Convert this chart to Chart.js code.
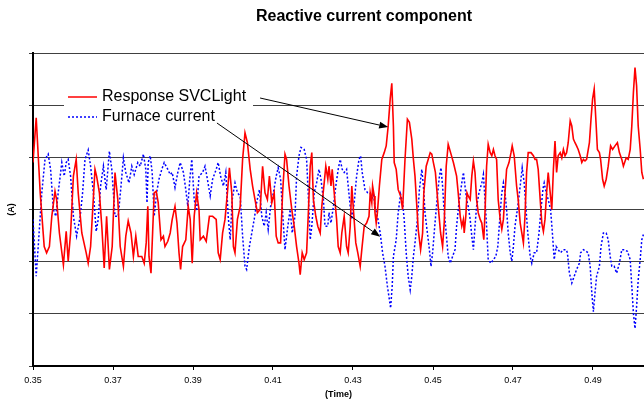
<!DOCTYPE html>
<html>
<head>
<meta charset="utf-8">
<script src="https://cdn.jsdelivr.net/npm/chart.js@4.4.0/dist/chart.umd.min.js"></script>
<style>
    html, body { margin: 0; padding: 0; background: #fff; }
    canvas { display: block; }
</style>
</head>
<body>
<canvas id="reactiveChart" width="644" height="403"></canvas>
<script>
const tickTimes = [0.35, 0.37, 0.39, 0.41, 0.43, 0.45, 0.47, 0.49];

const svcTime = [
    0.3500, 0.3508, 0.3518, 0.3528, 0.3534, 0.3541, 0.3547, 0.3555, 0.3559, 0.3566, 0.3576, 0.3583,
    0.3588, 0.3594, 0.3601, 0.3608, 0.3613, 0.3622, 0.3633, 0.3638, 0.3644, 0.3655, 0.3659, 0.3666,
    0.3672, 0.3678, 0.3684, 0.3691, 0.3698, 0.3705, 0.3712, 0.3718, 0.3726, 0.3732, 0.3738, 0.3745,
    0.3751, 0.3757, 0.3763, 0.3772, 0.3778, 0.3783, 0.3787, 0.3790, 0.3795, 0.3799, 0.3803, 0.3808,
    0.3813, 0.3820, 0.3826, 0.3830, 0.3837, 0.3843, 0.3848, 0.3855, 0.3860, 0.3865, 0.3869, 0.3874,
    0.3882, 0.3888, 0.3893, 0.3898, 0.3903, 0.3909, 0.3915, 0.3918, 0.3926, 0.3933, 0.3941, 0.3949,
    0.3958, 0.3963, 0.3968, 0.3974, 0.3980, 0.3986, 0.3991, 0.3997, 0.4001, 0.4005, 0.4011, 0.4018,
    0.4024, 0.4030, 0.4036, 0.4043, 0.4049, 0.4055, 0.4061, 0.4068, 0.4074, 0.4080, 0.4086, 0.4091,
    0.4097, 0.4103, 0.4108, 0.4113, 0.4119, 0.4124, 0.4130, 0.4134, 0.4140, 0.4147, 0.4153, 0.4159,
    0.4165, 0.4168, 0.4173, 0.4178, 0.4184, 0.4188, 0.4193, 0.4197, 0.4201, 0.4207, 0.4212, 0.4218,
    0.4222, 0.4228, 0.4232, 0.4237, 0.4240, 0.4245, 0.4248, 0.4253, 0.4259, 0.4263, 0.4268, 0.4272,
    0.4278, 0.4284, 0.4288, 0.4293, 0.4297, 0.4301, 0.4307, 0.4312, 0.4318, 0.4322, 0.4328, 0.4334,
    0.4340, 0.4343, 0.4347, 0.4349, 0.4353, 0.4355, 0.4358, 0.4361, 0.4366, 0.4372, 0.4378, 0.4383,
    0.4388, 0.4393, 0.4397, 0.4401, 0.4403, 0.4408, 0.4413, 0.4419, 0.4424, 0.4430, 0.4436, 0.4441,
    0.4447, 0.4451, 0.4455, 0.4459, 0.4463, 0.4469, 0.4474, 0.4477, 0.4483, 0.4488, 0.4493, 0.4497,
    0.4501, 0.4506, 0.4513, 0.4519, 0.4524, 0.4528, 0.4533, 0.4538, 0.4544, 0.4551, 0.4559, 0.4563,
    0.4568, 0.4572, 0.4576, 0.4578, 0.4582, 0.4585, 0.4588, 0.4593, 0.4597, 0.4601, 0.4605, 0.4609,
    0.4613, 0.4618, 0.4622, 0.4627, 0.4630, 0.4634, 0.4638, 0.4643, 0.4647, 0.4651, 0.4655, 0.4659,
    0.4663, 0.4668, 0.4672, 0.4676, 0.4680, 0.4684, 0.4690, 0.4695, 0.4698, 0.4703, 0.4709, 0.4713,
    0.4718, 0.4722, 0.4726, 0.4730, 0.4734, 0.4738, 0.4745, 0.4751, 0.4755, 0.4759, 0.4763, 0.4768,
    0.4772, 0.4776, 0.4780, 0.4784, 0.4788, 0.4793, 0.4797, 0.4801, 0.4805, 0.4809, 0.4813, 0.4818,
    0.4822, 0.4826, 0.4830, 0.4834, 0.4838, 0.4843, 0.4847, 0.4851, 0.4855, 0.4859, 0.4863, 0.4868,
    0.4872, 0.4876, 0.4880, 0.4884, 0.4891, 0.4895, 0.4899, 0.4903, 0.4908, 0.4911, 0.4916, 0.4919,
    0.4924, 0.4928, 0.4933, 0.4938, 0.4944, 0.4949, 0.4955, 0.4961, 0.4966, 0.4972, 0.4976, 0.4983,
    0.4988, 0.4993, 0.4997, 0.5001, 0.5005, 0.5009, 0.5013, 0.5018, 0.5022, 0.5026
];
const svcCurrent = [
    0.90, 1.76, 0.32, -0.71, -0.83, -0.71, -0.13, 0.35, 0.19, -0.45, -1.06, -0.42,
    -0.99, -0.45, 0.64, 0.96, 0.32, -0.45, -0.83, -1.03, -0.71, 0.77, 0.64, 0.32,
    -0.32, -1.12, -0.13, -1.15, -0.71, 0.71, 0.19, -0.71, -1.09, -0.51, -0.22, -0.45,
    -0.90, -0.51, -0.90, -0.90, -1.03, -0.64, 0.06, -0.90, -1.22, -0.45, 0.32, 0.35,
    0.13, -0.58, -0.51, -0.71, -0.61, -0.45, -0.19, 0.06, -0.26, -0.83, -1.15, -0.71,
    -0.58, 0.06, -0.19, -1.03, -0.13, 0.32, 0.00, -0.58, -0.51, -0.61, -0.13, -0.13,
    -0.19, -0.83, -0.96, -0.45, -0.19, 0.32, 0.80, 0.32, -0.71, -0.83, -0.19, 0.06,
    0.96, 1.47, 1.28, 0.77, 0.45, 0.19, -0.06, 0.00, 0.83, 0.32, 0.19, 0.64,
    0.13, 0.32, -0.51, -0.64, -0.64, 0.32, 1.06, 0.96, 0.45, 0.00, -0.32, -0.71,
    -1.03, -1.25, -0.83, -0.96, -0.83, -0.13, 0.83, 1.09, 0.19, -0.13, -0.32, -0.45,
    0.06, 0.51, 0.83, 0.58, 0.83, 0.45, 0.77, 0.32, -0.19, -0.71, -0.83, -0.45,
    -0.13, -0.71, -0.83, -0.32, 0.45, 0.00, -0.64, -0.83, -1.09, -0.77, -0.32, -0.26,
    -0.13, 0.32, 0.13, 0.45, 0.26, -0.06, -0.26, -0.06, 0.45, 0.96, 1.09, 1.22,
    1.60, 2.12, 2.42, 1.60, 0.90, 0.77, 0.38, 0.26, 0.00, 0.96, 1.73, 1.67,
    1.35, 0.96, 0.64, 0.13, -0.38, -0.77, -0.45, 0.32, 0.83, 0.96, 1.09, 1.06,
    0.90, 0.71, 0.06, -0.45, -0.71, -0.26, 0.83, 1.25, 1.09, 0.90, 0.64, 0.32,
    -0.13, -0.32, -0.19, -0.45, -0.13, 0.32, 0.26, 0.19, 0.64, 0.93, 0.71, 0.19,
    -0.06, -0.19, -0.26, -0.58, -0.06, 0.83, 1.25, 1.09, 1.03, 1.15, 1.03, 0.96,
    0.19, -0.19, -0.38, -0.19, 0.32, 0.77, 0.90, 1.09, 1.22, 1.03, 0.45, 0.19,
    -0.26, -0.45, -0.64, -0.13, 0.71, 1.09, 1.09, 1.03, 0.96, 0.96, 0.77, 0.19,
    -0.26, -0.42, -0.19, 0.32, 0.71, 0.32, 0.00, 0.77, 1.31, 0.71, 1.03, 1.09,
    0.99, 1.15, 1.03, 1.09, 1.28, 1.70, 1.60, 1.35, 1.28, 1.22, 1.15, 1.03,
    0.90, 0.96, 0.93, 0.96, 1.28, 1.73, 2.12, 2.31, 1.60, 1.15, 1.09, 0.96,
    0.58, 0.45, 0.58, 0.83, 1.22, 1.15, 1.22, 1.28, 1.09, 0.96, 0.83, 0.99,
    0.96, 1.15, 1.60, 2.24, 2.72, 2.37, 1.60, 1.15, 0.71, 0.58
];

const furnaceTime = [
    0.3500, 0.3508, 0.3513, 0.3522, 0.3530, 0.3538, 0.3544, 0.3551, 0.3557, 0.3563, 0.3572, 0.3578,
    0.3583, 0.3588, 0.3594, 0.3601, 0.3609, 0.3618, 0.3624, 0.3630, 0.3638, 0.3644, 0.3651, 0.3658,
    0.3663, 0.3669, 0.3676, 0.3683, 0.3691, 0.3697, 0.3705, 0.3713, 0.3720, 0.3726, 0.3732, 0.3740,
    0.3747, 0.3753, 0.3762, 0.3768, 0.3776, 0.3782, 0.3785, 0.3788, 0.3793, 0.3798, 0.3803, 0.3809,
    0.3815, 0.3822, 0.3828, 0.3837, 0.3843, 0.3848, 0.3855, 0.3862, 0.3868, 0.3876, 0.3882, 0.3887,
    0.3892, 0.3897, 0.3903, 0.3909, 0.3915, 0.3924, 0.3930, 0.3936, 0.3943, 0.3949, 0.3958, 0.3963,
    0.3969, 0.3976, 0.3982, 0.3988, 0.3993, 0.3998, 0.4005, 0.4011, 0.4018, 0.4024, 0.4030, 0.4034,
    0.4041, 0.4047, 0.4053, 0.4059, 0.4066, 0.4072, 0.4078, 0.4083, 0.4088, 0.4094, 0.4101, 0.4108,
    0.4113, 0.4119, 0.4124, 0.4130, 0.4137, 0.4143, 0.4148, 0.4155, 0.4159, 0.4165, 0.4170, 0.4178,
    0.4184, 0.4188, 0.4193, 0.4197, 0.4203, 0.4209, 0.4215, 0.4220, 0.4226, 0.4230, 0.4237, 0.4240,
    0.4245, 0.4251, 0.4257, 0.4263, 0.4268, 0.4273, 0.4278, 0.4284, 0.4288, 0.4293, 0.4297, 0.4303,
    0.4309, 0.4315, 0.4319, 0.4323, 0.4330, 0.4337, 0.4343, 0.4347, 0.4351, 0.4355, 0.4361, 0.4368,
    0.4374, 0.4380, 0.4386, 0.4391, 0.4394, 0.4398, 0.4401, 0.4408, 0.4413, 0.4419, 0.4424, 0.4428,
    0.4433, 0.4438, 0.4443, 0.4447, 0.4451, 0.4455, 0.4461, 0.4466, 0.4472, 0.4476, 0.4480, 0.4486,
    0.4491, 0.4495, 0.4499, 0.4505, 0.4511, 0.4516, 0.4520, 0.4524, 0.4527, 0.4533, 0.4538, 0.4543,
    0.4549, 0.4555, 0.4559, 0.4565, 0.4572, 0.4576, 0.4580, 0.4584, 0.4588, 0.4593, 0.4597, 0.4601,
    0.4605, 0.4609, 0.4615, 0.4622, 0.4626, 0.4630, 0.4634, 0.4638, 0.4645, 0.4651, 0.4657, 0.4662,
    0.4668, 0.4672, 0.4676, 0.4680, 0.4684, 0.4688, 0.4693, 0.4697, 0.4701, 0.4705, 0.4712, 0.4718,
    0.4723, 0.4728, 0.4732, 0.4737, 0.4743, 0.4747, 0.4753, 0.4759, 0.4765, 0.4770, 0.4775, 0.4778,
    0.4783, 0.4788, 0.4794, 0.4799, 0.4803, 0.4808, 0.4813, 0.4819, 0.4826, 0.4833, 0.4836, 0.4841,
    0.4847, 0.4853, 0.4859, 0.4866, 0.4869, 0.4876, 0.4883, 0.4888, 0.4893, 0.4897, 0.4901, 0.4905,
    0.4909, 0.4916, 0.4920, 0.4926, 0.4933, 0.4938, 0.4943, 0.4947, 0.4953, 0.4959, 0.4966, 0.4972,
    0.4978, 0.4986, 0.4993, 0.4997, 0.5001, 0.5005, 0.5009, 0.5013, 0.5018, 0.5022, 0.5026
];
const furnaceCurrent = [
    -0.19, -1.28, -0.71, 0.32, 0.96, 1.06, 0.77, 0.00, -0.13, 0.32, 0.90, 0.64,
    0.90, 0.96, 0.64, -0.13, -0.51, -0.13, 0.32, 0.96, 1.14, 0.83, 0.32, -0.42,
    -0.19, 0.45, 0.83, 0.38, 1.12, 0.77, -0.13, -0.13, 0.45, 0.99, 0.71, 0.51,
    0.83, 0.67, 0.90, 0.83, 1.06, 0.77, 0.13, 0.90, 1.03, 0.71, -0.13, 0.32,
    0.58, 0.77, 0.90, 0.77, 0.67, 0.71, 0.42, 0.71, 0.90, 0.71, 0.38, 0.06,
    0.58, 0.96, 0.19, -0.03, 0.64, 0.71, 0.83, 0.58, 0.26, 0.58, 0.77, 0.90,
    0.64, 0.45, 0.71, -0.13, -0.58, 0.19, 0.51, 0.32, 0.26, -0.51, -1.09, -1.15,
    -0.71, -0.45, -0.19, 0.13, 0.38, -0.13, -0.32, -0.06, -0.38, 0.06, 0.32, 0.64,
    0.80, 0.58, -0.06, -0.77, -0.32, 0.00, -0.45, -0.13, 0.64, 1.03, 1.19, 1.15,
    0.96, 0.32, -0.58, -0.32, 0.32, 0.51, 0.77, 0.58, 0.19, -0.32, -0.32, -0.06,
    -0.26, 0.06, 0.45, 0.77, 0.96, 0.77, 0.71, 0.77, 0.45, 0.06, -0.19, 0.13,
    0.64, 0.96, 1.03, 0.71, 0.38, 0.32, 0.32, 0.19, 0.32, 0.06, -0.13, -0.45,
    -0.83, -1.09, -1.47, -1.73, -1.89, -1.47, -0.90, -0.58, -0.06, 0.29, 0.13, -0.19,
    -0.83, -1.28, -1.54, -1.28, -0.90, -0.64, -0.19, 0.38, 0.77, 0.45, -0.06, -0.45,
    -0.77, -1.09, -0.83, -0.26, 0.26, 0.64, 0.80, 0.45, 0.06, -0.45, -0.90, -1.03,
    -0.90, -0.77, -0.32, 0.13, 0.51, 0.71, 0.45, 0.19, 0.06, -0.19, -0.51, -0.77,
    -0.32, 0.06, 0.32, 0.51, 0.67, 0.19, -0.32, -0.96, -1.03, -0.96, -0.90, -0.71,
    -0.06, 0.32, 0.51, 0.32, 0.00, -0.45, -0.83, -0.99, -0.71, -0.32, 0.06, 0.45,
    0.80, 0.51, 0.06, -0.45, -0.90, -1.03, -0.83, -0.83, -0.45, 0.00, 0.40, 0.51,
    0.32, 0.19, 0.00, -0.51, -0.96, -0.71, -0.77, -0.83, -0.77, -0.77, -0.83, -1.22,
    -1.41, -1.28, -1.15, -1.03, -0.83, -0.77, -0.80, -0.83, -1.09, -1.60, -1.96, -1.60,
    -1.28, -1.09, -0.71, -0.45, -0.45, -0.58, -0.90, -1.09, -1.09, -1.22, -1.03, -0.77,
    -0.77, -0.80, -0.96, -1.47, -1.99, -2.28, -1.86, -1.35, -0.96, -0.58, -0.48
];

// where the legend arrows point, in data units
const svcArrowTip = { x: 0.4388, y: 1.58 };
const furnaceArrowTip = { x: 0.4368, y: -0.52 };

const fontFamily = '"Liberation Sans", Arial, sans-serif';

const toPoints = (times, values) => times.map((t, i) => ({ x: t, y: values[i] }));

const drawArrow = (ctx, x0, y0, x1, y1) => {
    const angle = Math.atan2(y1 - y0, x1 - x0);
    const len = 9;
    const half = 3.5;
    const bx = x1 - len * Math.cos(angle);
    const by = y1 - len * Math.sin(angle);
    ctx.beginPath();
    ctx.moveTo(x0, y0);
    ctx.lineTo(bx, by);
    ctx.stroke();
    ctx.beginPath();
    ctx.moveTo(x1, y1);
    ctx.lineTo(bx + half * Math.sin(angle), by - half * Math.cos(angle));
    ctx.lineTo(bx - half * Math.sin(angle), by + half * Math.cos(angle));
    ctx.closePath();
    ctx.fill();
};

const overlay = {
    id: 'overlay',
    beforeDatasetsDraw(chart) {
        const { ctx, chartArea } = chart;
        ctx.save();
        ctx.fillStyle = '#fff';
        ctx.fillRect(chartArea.left + 31, chartArea.top + 32, 189, 43);
        ctx.restore();
    },
    afterDraw(chart) {
        const { ctx, chartArea, scales } = chart;
        ctx.save();
        ctx.fillStyle = '#000';
        ctx.textBaseline = 'middle';

        ctx.font = 'bold 16px ' + fontFamily;
        ctx.textAlign = 'center';
        ctx.fillText('Reactive current component', 364, 17);

        ctx.save();
        ctx.translate(12, (chartArea.top + chartArea.bottom) / 2);
        ctx.rotate(-Math.PI / 2);
        ctx.font = 'bold 9px ' + fontFamily;
        ctx.fillText('(A)', 0, 0);
        ctx.restore();

        // legend
        const lx = chartArea.left + 35;
        const rowSvc = chartArea.top + 44;
        const rowFurnace = chartArea.top + 64;
        ctx.lineWidth = 1.5;
        ctx.strokeStyle = '#ff0000';
        ctx.beginPath();
        ctx.moveTo(lx, rowSvc);
        ctx.lineTo(lx + 29, rowSvc);
        ctx.stroke();
        ctx.strokeStyle = '#0000ff';
        ctx.setLineDash([2, 2]);
        ctx.beginPath();
        ctx.moveTo(lx, rowFurnace);
        ctx.lineTo(lx + 29, rowFurnace);
        ctx.stroke();
        ctx.setLineDash([]);

        ctx.font = '16px ' + fontFamily;
        ctx.textAlign = 'left';
        ctx.fillText('Response SVCLight', lx + 34, rowSvc);
        ctx.fillText('Furnace current', lx + 34, rowFurnace);
        const svcEnd = lx + 34 + ctx.measureText('Response SVCLight').width;
        const furnaceEnd = lx + 34 + ctx.measureText('Furnace current').width;

        // arrows
        ctx.strokeStyle = '#000';
        ctx.fillStyle = '#000';
        ctx.lineWidth = 1;
        drawArrow(ctx, svcEnd + 14, rowSvc + 1,
            scales.x.getPixelForValue(svcArrowTip.x), scales.y.getPixelForValue(svcArrowTip.y));
        drawArrow(ctx, furnaceEnd + 2, rowFurnace + 6,
            scales.x.getPixelForValue(furnaceArrowTip.x), scales.y.getPixelForValue(furnaceArrowTip.y));
        ctx.restore();
    }
};

new Chart(document.getElementById('reactiveChart'), {
    type: 'line',
    data: {
        datasets: [{
            label: 'Response SVCLight',
            data: toPoints(svcTime, svcCurrent),
            borderColor: '#ff0000',
            borderWidth: 1.6,
            pointRadius: 0,
            tension: 0
        }, {
            label: 'Furnace current',
            data: toPoints(furnaceTime, furnaceCurrent),
            borderColor: '#0000ff',
            borderWidth: 1.5,
            borderDash: [2, 2],
            pointRadius: 0,
            tension: 0
        }]
    },
    options: {
        responsive: false,
        animation: false,
        layout: { padding: { top: 53, right: 0, bottom: 0, left: 0 } },
        plugins: { legend: { display: false }, tooltip: { enabled: false } },
        scales: {
            x: {
                type: 'linear',
                min: 0.35,
                max: 0.50275,
                afterBuildTicks: (scale) => { scale.ticks = tickTimes.map((v) => ({ value: v })); },
                afterFit: (scale) => { scale.height = 37; },
                grid: { drawOnChartArea: false, color: '#000', tickLength: 4 },
                border: { color: '#000', width: 2 },
                ticks: {
                    color: '#000',
                    padding: 5,
                    maxRotation: 0,
                    autoSkip: false,
                    font: { family: fontFamily, size: 9 },
                    callback: (v) => Number(v).toFixed(2)
                },
                title: {
                    display: true,
                    text: '(Time)',
                    color: '#000',
                    font: { family: fontFamily, size: 9, weight: 'bold' },
                    padding: { top: 3, bottom: 3 }
                }
            },
            y: {
                min: -3,
                max: 3,
                afterFit: (scale) => { scale.width = 33; },
                ticks: { stepSize: 1, display: false },
                grid: { color: '#404040', tickLength: 4 },
                border: { color: '#000', width: 2 }
            }
        }
    },
    plugins: [overlay]
});
</script>
</body>
</html>
